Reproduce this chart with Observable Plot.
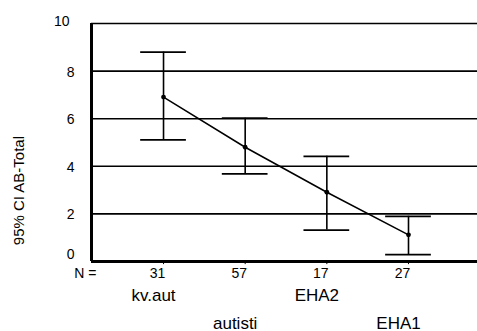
<!DOCTYPE html>
<html>
<head>
<meta charset="utf-8">
<script src="https://cdn.jsdelivr.net/npm/d3@7"></script>
<script src="https://cdn.jsdelivr.net/npm/@observablehq/plot@0.6"></script>
<style>
  html, body { margin: 0; padding: 0; background: white; overflow: hidden; }
  #chart svg { display: block; overflow: hidden; }
</style>
</head>
<body>
<div id="chart"></div>
<script>
// Data
const groups = ["kv.aut", "autisti", "EHA2", "EHA1"];
const nValues = [31, 57, 17, 27];
const means = [6.91, 4.80, 2.91, 1.12];
const lower = [5.11, 3.68, 1.32, 0.29];
const upper = [8.80, 6.02, 4.42, 1.90];
const yTicks = [0, 2, 4, 6, 8, 10];
const yLabel = "95% CI AB-Total";
const nLabel = "N =";

const xMin = 0.118, xMax = 4.845, capHalf = 0.28;
const yLabelCenter = 2.98; // vertical centre of the axis title, in y units
const rows = groups.map((g, k) => ({
  i: k + 1, g, n: nValues[k], mean: means[k], lo: lower[k], hi: upper[k], row: k % 2
}));

const font = "'Liberation Sans', Arial, sans-serif";

const chart = Plot.plot({
  width: 477,
  height: 331,
  marginLeft: 91,
  marginRight: 0,
  marginTop: 23,
  marginBottom: 70,
  x: { domain: [xMin, xMax], axis: null },
  y: { domain: [0, 10], axis: null },
  style: { fontFamily: font, color: "black", background: "white" },
  marks: [
    // horizontal grid lines
    Plot.ruleY(yTicks.filter(t => t > 0), { stroke: "black", strokeWidth: 1.6 }),
    // bottom axis
    Plot.ruleY([0], { stroke: "black", strokeWidth: 3 }),
    // left axis
    Plot.ruleX([xMin], { y1: 0, y2: 10, stroke: "black", strokeWidth: 3 }),
    // tiny ticks below axis
    Plot.ruleX(rows, { x: "i", y1: 0, y2: -0.13, stroke: "black", strokeWidth: 1 }),
    // y tick labels
    Plot.text(yTicks.filter(t => t > 0 && t < 10), {
      y: d => d, text: d => String(d), frameAnchor: "left",
      textAnchor: "end", dx: -17, dy: 1, fontSize: 14, fill: "black"
    }),
    Plot.text(yTicks.filter(t => t === 0), {
      y: d => d, text: d => String(d), frameAnchor: "left",
      textAnchor: "end", dx: -17, dy: -7, fontSize: 14, fill: "black"
    }),
    Plot.text(yTicks.filter(t => t === 10), {
      y: d => d, text: d => String(d), frameAnchor: "left",
      textAnchor: "end", dx: -22, dy: -2, fontSize: 14, fill: "black"
    }),
    // error bars
    Plot.ruleX(rows, { x: "i", y1: "lo", y2: "hi", stroke: "black", strokeWidth: 1.6 }),
    Plot.ruleY(rows, { y: "hi", x1: d => d.i - capHalf, x2: d => d.i + capHalf, stroke: "black", strokeWidth: 1.8 }),
    Plot.ruleY(rows, { y: "lo", x1: d => d.i - capHalf, x2: d => d.i + capHalf, stroke: "black", strokeWidth: 1.8 }),
    // mean line and points
    Plot.line(rows, { x: "i", y: "mean", stroke: "black", strokeWidth: 1.5 }),
    Plot.dot(rows, { x: "i", y: "mean", r: 2.4, fill: "black", stroke: "none" }),
    // N labels
    Plot.text([nLabel], {
      frameAnchor: "bottom-left", textAnchor: "end", dx: 5, dy: 16, fontSize: 14, fill: "black"
    }),
    Plot.text(rows, {
      x: "i", text: d => String(d.n), frameAnchor: "bottom",
      dx: -6, dy: 16, fontSize: 14, fill: "black"
    }),
    // category labels (staggered)
    Plot.text(rows.filter(d => d.row === 0), {
      x: "i", text: "g", frameAnchor: "bottom", dx: -10, dy: 39, fontSize: 17, fill: "black"
    }),
    Plot.text(rows.filter(d => d.row === 1), {
      x: "i", text: "g", frameAnchor: "bottom", dx: -10, dy: 67, fontSize: 17, fill: "black"
    }),
    // y axis title
    Plot.text([yLabel], {
      y: () => yLabelCenter, frameAnchor: "left", textAnchor: "middle",
      rotate: -90, dx: -72, fontSize: 15, fill: "black"
    })
  ]
});

document.getElementById("chart").appendChild(chart);
</script>
</body>
</html>
